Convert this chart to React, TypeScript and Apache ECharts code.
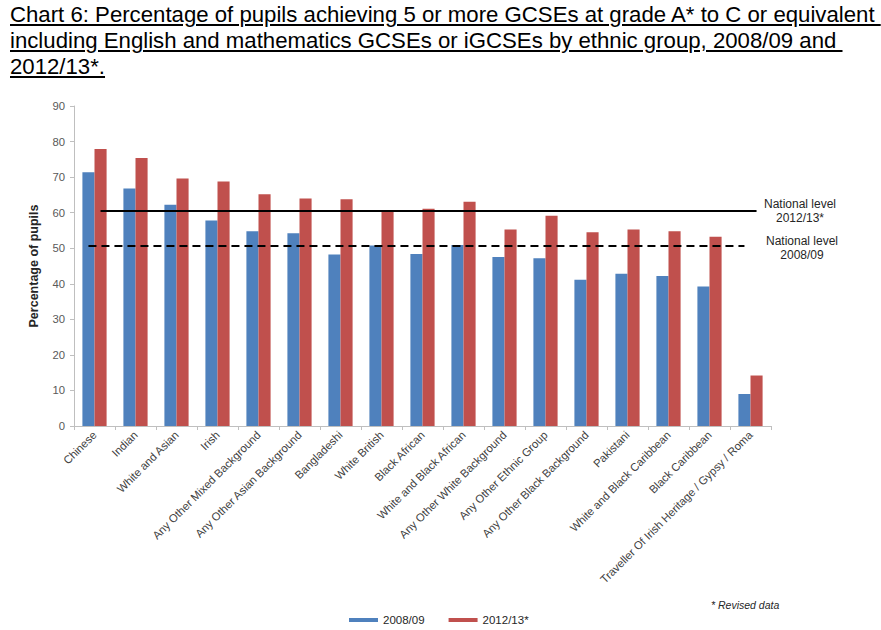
import React, { useEffect, useRef } from "react";
import * as echarts from "echarts";

const categories = [
  "Chinese",
  "Indian",
  "White and Asian",
  "Irish",
  "Any Other Mixed Background",
  "Any Other Asian Background",
  "Bangladeshi",
  "White British",
  "Black African",
  "White and Black African",
  "Any Other White Background",
  "Any Other Ethnic Group",
  "Any Other Black Background",
  "Pakistani",
  "White and Black Caribbean",
  "Black Caribbean",
  "Traveller Of Irish Heritage / Gypsy / Roma",
];

const values2008 = [71.4, 66.8, 62.2, 57.8, 54.8, 54.2, 48.2, 50.8, 48.4, 50.9, 47.5, 47.2, 41.1, 42.8, 42.2, 39.2, 9.0];
const values2012 = [77.9, 75.4, 69.6, 68.8, 65.2, 64.0, 63.8, 60.6, 61.1, 63.1, 55.3, 59.1, 54.5, 55.3, 54.8, 53.2, 14.2];

const national2012 = 60.6;
const national2008 = 50.7;

const seriesNames = ["2008/09", "2012/13*"];
const yTicks = { min: 0, max: 90, interval: 10 };

const titleLines = [
  "Chart 6: Percentage of pupils achieving 5 or more GCSEs at grade A* to C or equivalent ",
  "including English and mathematics GCSEs or iGCSEs by ethnic group, 2008/09 and ",
  "2012/13*.",
];

const FONT = "Liberation Sans, Arial, sans-serif";

export default function App() {
  const ref = useRef<HTMLDivElement>(null);

  useEffect(() => {
    if (!ref.current) return;
    const chart = echarts.init(ref.current, null, { renderer: "svg" });
    const first = categories[0];
    const last = categories[categories.length - 1];
    chart.setOption({
      animation: false,
      backgroundColor: "#ffffff",
      textStyle: { fontFamily: FONT },
      grid: { left: 74, right: 110, top: 106, bottom: 204 },
      legend: {
        data: seriesNames,
        left: 344,
        top: 609,
        icon: "rect",
        itemWidth: 29,
        itemHeight: 4,
        itemGap: 24,
        textStyle: { fontSize: 11.5, color: "#262626" },
      },
      xAxis: {
        type: "category",
        data: categories,
        axisLine: { lineStyle: { color: "#bfbfbf", width: 1 } },
        axisTick: { show: true, alignWithLabel: false, length: 4, lineStyle: { color: "#bfbfbf" } },
        axisLabel: {
          interval: 0,
          rotate: 45,
          fontSize: 11.3,
          color: "#404040",
          margin: 7,
        },
      },
      yAxis: {
        type: "value",
        min: yTicks.min,
        max: yTicks.max,
        interval: yTicks.interval,
        name: "Percentage of pupils",
        nameLocation: "middle",
        nameGap: 34,
        nameTextStyle: { fontSize: 12.5, fontWeight: "bold", color: "#262626" },
        axisLine: { show: true, lineStyle: { color: "#bfbfbf" } },
        axisTick: { show: true, length: 4, lineStyle: { color: "#bfbfbf" } },
        splitLine: { show: false },
        axisLabel: { fontSize: 11.3, color: "#595959", margin: 9 },
      },
      series: [
        {
          name: seriesNames[0],
          type: "bar",
          data: values2008,
          barGap: "0%",
          barCategoryGap: "41%",
          itemStyle: { color: "#4F81BD" },
          markLine: {
            silent: true,
            symbol: ["none", "none"],
            label: { show: false },
            lineStyle: { color: "#000000", width: 2, type: [8, 5] },
            data: [[{ coord: [first, national2008] }, { coord: [last, national2008] }]],
          },
        },
        {
          name: seriesNames[1],
          type: "bar",
          data: values2012,
          itemStyle: { color: "#C0504D" },
          markLine: {
            silent: true,
            symbol: ["none", "none"],
            label: { show: false },
            lineStyle: { color: "#000000", width: 2, type: "solid" },
            data: [[{ coord: [first, national2012] }, { coord: [last, national2012] }]],
          },
        },
      ],
      graphic: [
        {
          type: "text",
          x: 800,
          y: 197,
          style: {
            text: "National level\n2012/13*",
            fontSize: 12,
            lineHeight: 14,
            fill: "#262626",
            align: "center",
            textAlign: "center",
            verticalAlign: "top",
            fontFamily: FONT,
          },
        },
        {
          type: "text",
          x: 802,
          y: 234,
          style: {
            text: "National level\n2008/09",
            fontSize: 12,
            lineHeight: 14,
            fill: "#262626",
            align: "center",
            textAlign: "center",
            verticalAlign: "top",
            fontFamily: FONT,
          },
        },
        {
          type: "text",
          x: 711,
          y: 599,
          style: {
            text: "* Revised data",
            fontSize: 10.5,
            fontStyle: "italic",
            fill: "#262626",
            verticalAlign: "top",
            fontFamily: FONT,
          },
        },
      ],
    });
    return () => chart.dispose();
  }, []);

  return (
    <div style={{ position: "fixed", left: 0, top: 0, width: 881, height: 630, background: "#fff" }}>
      <div ref={ref} style={{ position: "absolute", left: 0, top: 0, width: 881, height: 630 }} />
      <div
        style={{
          position: "absolute",
          left: 10,
          top: 2,
          fontFamily: FONT,
          fontSize: 22.2,
          lineHeight: "26px",
          color: "#000",
          textDecoration: "underline",
          whiteSpace: "pre",
        }}
      >
        {titleLines.map((l, i) => (
          <div key={i}>{l}</div>
        ))}
      </div>
    </div>
  );
}
